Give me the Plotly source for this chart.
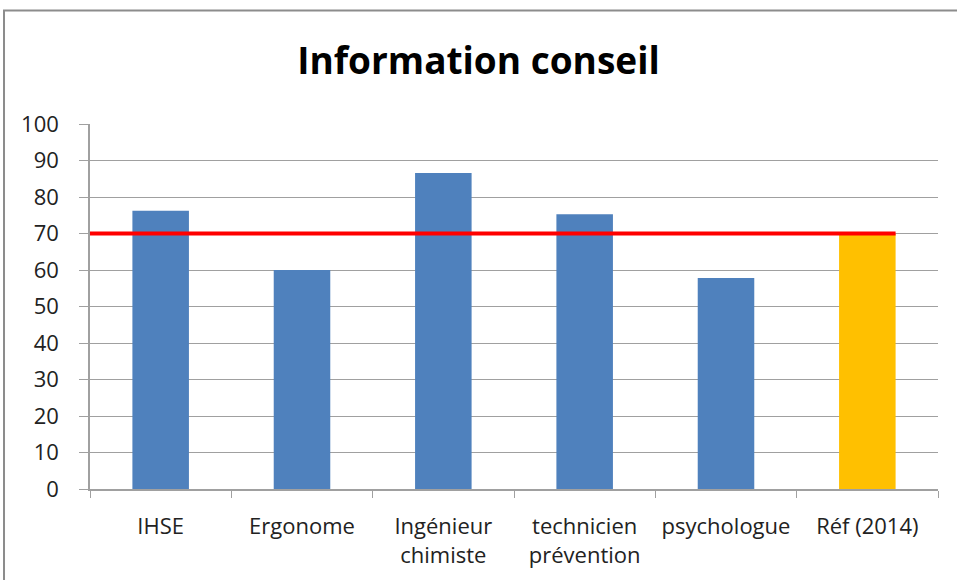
import plotly.graph_objects as go

categories = ["IHSE", "Ergonome", "Ingénieur<br>chimiste", "technicien<br>prévention", "psychologue", "Réf (2014)"]
values = [76.2, 60.0, 86.6, 75.3, 57.8, 70.0]
bar_colors = ["#4f81bd", "#4f81bd", "#4f81bd", "#4f81bd", "#4f81bd", "#ffc000"]
ref_value = 70
ref_x = [-0.5, 5.2]
y_ticks = list(range(0, 101, 10))

FONT = "Open Sans"

fig = go.Figure()
fig.add_trace(go.Bar(x=categories, y=values, marker=dict(color=bar_colors, line=dict(width=0)),
                     width=0.4, showlegend=False, hoverinfo="x+y"))

fig.add_shape(type="line", xref="x", yref="y", x0=ref_x[0], x1=ref_x[1], y0=ref_value, y1=ref_value,
              line=dict(color="#ff0000", width=4), layer="above")

# outer frame
fig.add_shape(type="rect", xref="paper", yref="paper", x0=-0.1014, x1=1.2, y0=-0.5, y1=1.311,
              line=dict(color="#8c8c8c", width=2), layer="below")

fig.update_layout(
    width=957, height=580,
    margin=dict(l=90, r=19, t=124, b=91),
    paper_bgcolor="white", plot_bgcolor="white",
    title=dict(text="<b>Information conseil</b>", x=0.5, xanchor="center", y=0.895, yanchor="middle",
               font=dict(family=FONT, size=37, color="black")),
    font=dict(family=FONT, size=22, color="#222"),
    bargap=0.6,
)
fig.update_xaxes(type="category", tickson="boundaries", ticks="outside", ticklen=7, tickcolor="#a0a0a0",
                 showline=True, linecolor="#a0a0a0", linewidth=1.5, showgrid=False,
                 ticklabelstandoff=17, range=[-0.5, 5.5], tickfont=dict(size=22, family=FONT, color="#222"))
fig.update_yaxes(range=[0, 100], tickvals=y_ticks, ticks="outside", ticklen=9, tickcolor="#a0a0a0",
                 showline=True, linecolor="#a0a0a0", linewidth=1.5, gridcolor="#a0a0a0", gridwidth=1.2,
                 zeroline=False, tickfont=dict(size=22, family=FONT, color="#222"), ticklabelstandoff=16)

fig.write_html("out.html", config={"displayModeBar": False},
               post_script="document.body.style.margin='0';")
